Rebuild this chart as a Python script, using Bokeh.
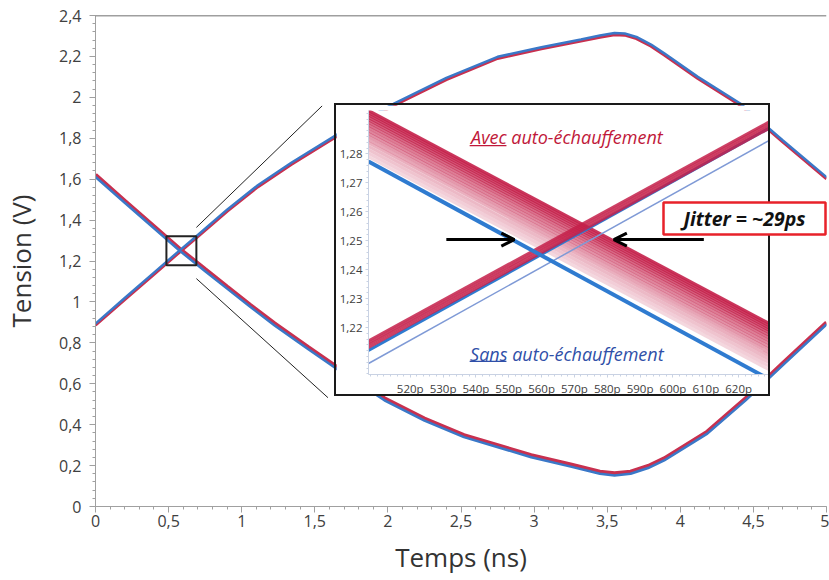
from bokeh.plotting import figure
from bokeh.models import (FixedTicker, Span, BoxAnnotation, Arrow, OpenHead, Label, Range1d)
from bokeh.embed import file_html
from bokeh.resources import INLINE

# ---------------- main chart data ----------------
t_upper = [0, 0.2, 0.4, 0.576, 0.69, 0.9, 1.11, 1.339, 1.646, 2.045, 2.4, 2.75, 3.05, 3.32, 3.45,
           3.55, 3.62, 3.7, 3.8, 3.89, 4.12, 4.41, 4.7, 5.0]
v_upper_blue = [0.894, 1.019, 1.143, 1.252, 1.321, 1.451, 1.570, 1.680, 1.815, 1.970, 2.095, 2.198,
                2.245, 2.283, 2.302, 2.314, 2.312, 2.295, 2.258, 2.215, 2.100, 1.970, 1.790, 1.610]
v_upper_red = [0.886, 1.011, 1.135, 1.244, 1.313, 1.443, 1.562, 1.672, 1.807, 1.962, 2.087, 2.190,
               2.237, 2.275, 2.294, 2.306, 2.304, 2.287, 2.250, 2.207, 2.092, 1.962, 1.782, 1.602]

t_lower = [0, 0.2, 0.4, 0.576, 0.75, 0.9, 1.06, 1.225, 1.453, 1.646, 1.976, 2.25, 2.52, 2.98, 3.25,
           3.45, 3.55, 3.66, 3.78, 3.89, 4.185, 4.447, 4.7, 5.0]
v_lower_blue = [1.611, 1.485, 1.360, 1.250, 1.150, 1.065, 0.975, 0.885, 0.770, 0.675, 0.519, 0.420,
                0.339, 0.241, 0.195, 0.160, 0.152, 0.160, 0.188, 0.225, 0.356, 0.519, 0.690, 0.890]
v_lower_red = [1.621, 1.495, 1.370, 1.260, 1.160, 1.075, 0.985, 0.895, 0.780, 0.685, 0.529, 0.430,
               0.349, 0.251, 0.205, 0.170, 0.162, 0.170, 0.198, 0.235, 0.366, 0.529, 0.700, 0.900]

x_ticks = [0, 0.5, 1, 1.5, 2, 2.5, 3, 3.5, 4, 4.5, 5]
x_tick_labels = ["0", "0,5", "1", "1,5", "2", "2,5", "3", "3,5", "4", "4,5", "5"]
y_ticks = [0, 0.2, 0.4, 0.6, 0.8, 1, 1.2, 1.4, 1.6, 1.8, 2, 2.2, 2.4]
y_tick_labels = ["0", "0,2", "0,4", "0,6", "0,8", "1", "1,2", "1,4", "1,6", "1,8", "2", "2,2", "2,4"]

# zoom window marker (main chart coordinates)
zoom_box = dict(left=0.485, right=0.69, bottom=1.179, top=1.321)
conn_x0 = [0.69, 0.69]
conn_y0 = [1.364, 1.114]
conn_x1 = [1.55, 1.59]
conn_y1 = [1.958, 0.532]

# ---------------- inset data (ps, V) ----------------
inset_t = [507.3, 629.7]
red_fall_start = [1.2950, 1.2942, 1.2934, 1.2926, 1.2918, 1.2909, 1.2900, 1.2890, 1.2880,
                  1.2870, 1.2860, 1.2849, 1.2838, 1.2826, 1.2814, 1.2802, 1.2790]
red_fall_end = [1.2212, 1.2204, 1.2196, 1.2188, 1.2180, 1.2171, 1.2162, 1.2152, 1.2142,
                1.2132, 1.2122, 1.2111, 1.2100, 1.2088, 1.2076, 1.2064, 1.2052]
red_rise_start = [1.2155, 1.2147, 1.2139, 1.2131]
red_rise_end = [1.2914, 1.2906, 1.2898, 1.2890]
blue_fall = [1.2774, 1.2019]
blue_rise_thick = [1.2121, 1.2892]
blue_rise_thin = [1.2076, 1.2849]

inset_x_ticks = [520, 530, 540, 550, 560, 570, 580, 590, 600, 610, 620]
inset_x_labels = ["520p", "530p", "540p", "550p", "560p", "570p", "580p", "590p", "600p", "610p", "620p"]
inset_y_ticks = [1.22, 1.23, 1.24, 1.25, 1.26, 1.27, 1.28]
inset_y_labels = ["1,22", "1,23", "1,24", "1,25", "1,26", "1,27", "1,28"]

jitter_left_arrow = (531.0, 551.7)
jitter_right_arrow = (609.4, 582.0)
jitter_level = 1.2504

# ---------------- styles ----------------
BLUE = "#3a78c8"
RED = "#c8304f"
FONT = "Open Sans"
TXT = "#404040"
AX = "#a0a0a0"

# ---------------- main figure ----------------
p = figure(width=829, height=580, output_backend="svg", toolbar_location=None,
           x_range=Range1d(0, 5), y_range=Range1d(0, 2.4),
           min_border_left=94, min_border_right=3, min_border_top=15, min_border_bottom=74)
p.outline_line_color = None
p.grid.grid_line_color = None
p.background_fill_color = "white"
p.border_fill_color = "white"

p.xaxis.ticker = FixedTicker(ticks=x_ticks, minor_ticks=[i * 0.1 for i in range(51)])
p.xaxis.major_label_overrides = dict(zip(x_ticks, x_tick_labels))
p.yaxis.ticker = FixedTicker(ticks=y_ticks, minor_ticks=[i * 0.04 for i in range(61)])
p.yaxis.major_label_overrides = dict(zip(y_ticks, y_tick_labels))
for ax in (p.xaxis, p.yaxis):
    ax.axis_line_color = AX
    ax.major_tick_line_color = AX
    ax.minor_tick_line_color = AX
    ax.major_tick_out = 6
    ax.major_tick_in = 0
    ax.minor_tick_out = 3
    ax.minor_tick_in = 0
    ax.major_label_text_font = FONT
    ax.major_label_text_font_size = "16px"
    ax.major_label_text_color = TXT
    ax.axis_label_text_font = FONT
    ax.axis_label_text_font_size = "26px"
    ax.axis_label_text_font_style = "normal"
    ax.axis_label_text_color = "#333333"
p.xaxis.major_label_standoff = 2
p.yaxis.major_label_standoff = 8
p.xaxis.axis_label = "Temps (ns)"
p.yaxis.axis_label = "Tension (V)"
p.xaxis.axis_label_standoff = 9
p.yaxis.axis_label_standoff = 17

p.add_layout(Span(location=2.4, dimension="width", line_color="#404040", line_width=1.5))

p.line(t_upper, v_upper_red, line_color=RED, line_width=3)
p.line(t_lower, v_lower_red, line_color=RED, line_width=4)
p.line(t_upper, v_upper_blue, line_color=BLUE, line_width=2.5)
p.line(t_lower, v_lower_blue, line_color=BLUE, line_width=2.5)

p.add_layout(BoxAnnotation(fill_alpha=0, line_color="#222222", line_alpha=1, line_width=2, **zoom_box))
p.segment(x0=conn_x0, y0=conn_y0, x1=conn_x1, y1=conn_y1, line_color="#222222", line_width=1)

# ---------------- inset figure ----------------
q = figure(width=436, height=293, output_backend="svg", toolbar_location=None,
           x_range=Range1d(inset_t[0], inset_t[1]), y_range=Range1d(1.2038, 1.295),
           min_border_left=29, min_border_right=2, min_border_top=5, min_border_bottom=23,
           styles={"position": "absolute", "left": "334px", "top": "103px",
                   "border": "2px solid #1a1a1a"})
q.outline_line_color = None
q.grid.grid_line_color = None
q.xaxis.ticker = FixedTicker(ticks=inset_x_ticks, minor_ticks=list(range(508, 630, 2)))
q.xaxis.major_label_overrides = dict(zip(inset_x_ticks, inset_x_labels))
q.yaxis.ticker = FixedTicker(ticks=inset_y_ticks, minor_ticks=[1.204 + i * 0.002 for i in range(46)])
q.yaxis.major_label_overrides = dict(zip(inset_y_ticks, inset_y_labels))
for ax in (q.xaxis, q.yaxis):
    ax.axis_line_color = "#c9d2e3"
    ax.major_tick_line_color = "#c9d2e3"
    ax.minor_tick_line_color = "#c9d2e3"
    ax.major_tick_out = 3
    ax.major_tick_in = 0
    ax.minor_tick_out = 2
    ax.minor_tick_in = 0
    ax.major_label_text_font = FONT
    ax.major_label_text_font_size = "11.5px"
    ax.major_label_text_color = TXT
    ax.major_label_standoff = 3

n = len(red_fall_start)
for i, (a, b) in enumerate(zip(red_fall_start, red_fall_end)):
    alpha = 0.9 - 0.72 * i / (n - 1)
    q.line(inset_t, [a, b], line_color="#c4204a", line_width=3, line_alpha=alpha)
q.line(inset_t, blue_rise_thin, line_color="#7f9ad6", line_width=1.5)
q.line(inset_t, blue_rise_thick, line_color="#2f7bd0", line_width=3)
for a, b in zip(red_rise_start, red_rise_end):
    q.line(inset_t, [a, b], line_color="#c4204a", line_width=2.5, line_alpha=0.85)
q.line(inset_t, blue_fall, line_color="#2f7bd0", line_width=4)

q.add_layout(Label(x=567.7, y=1.2858, text="Avec auto-échauffement", text_align="center",
                   text_baseline="alphabetic", text_font=FONT, text_font_size="18px",
                   text_font_style="italic", text_color="#c0183a"))
q.add_layout(Label(x=567.7, y=1.2110, text="Sans auto-échauffement", text_align="center",
                   text_baseline="alphabetic", text_font=FONT, text_font_size="18px",
                   text_font_style="italic", text_color="#2f4fa8"))
q.segment(x0=[538.1, 538.1], y0=[1.2829, 1.2083], x1=[549.3, 549.3], y1=[1.2829, 1.2083],
          line_color=["#c0183a", "#2f4fa8"], line_width=1.2)

q.add_layout(Arrow(x_start=jitter_left_arrow[0], x_end=jitter_left_arrow[1],
                   y_start=jitter_level, y_end=jitter_level, line_width=3, line_color="black",
                   end=OpenHead(size=13, line_width=3, line_color="black")))
q.add_layout(Arrow(x_start=jitter_right_arrow[0], x_end=jitter_right_arrow[1],
                   y_start=jitter_level, y_end=jitter_level, line_width=3, line_color="black",
                   end=OpenHead(size=13, line_width=3, line_color="black")))

# ---------------- jitter label ----------------
r = figure(width=166, height=44, output_backend="svg", toolbar_location=None,
           x_range=Range1d(0, 1), y_range=Range1d(0, 1),
           min_border=0, min_border_left=2, min_border_right=2, min_border_top=6, min_border_bottom=6,
           styles={"position": "absolute", "left": "661px", "top": "196px"})
r.axis.visible = False
r.grid.grid_line_color = None
r.border_fill_alpha = 0
r.background_fill_color = "white"
r.outline_line_color = "#e8222a"
r.outline_line_width = 2.5
r.add_layout(Label(x=0.5, y=0.5, text="Jitter = ~29ps", text_align="center",
                   text_baseline="middle", text_font=FONT, text_font_size="19.5px",
                   text_font_style="bold italic", text_color="#111111"))

open("out.html", "w").write(file_html([p, q, r], INLINE))
